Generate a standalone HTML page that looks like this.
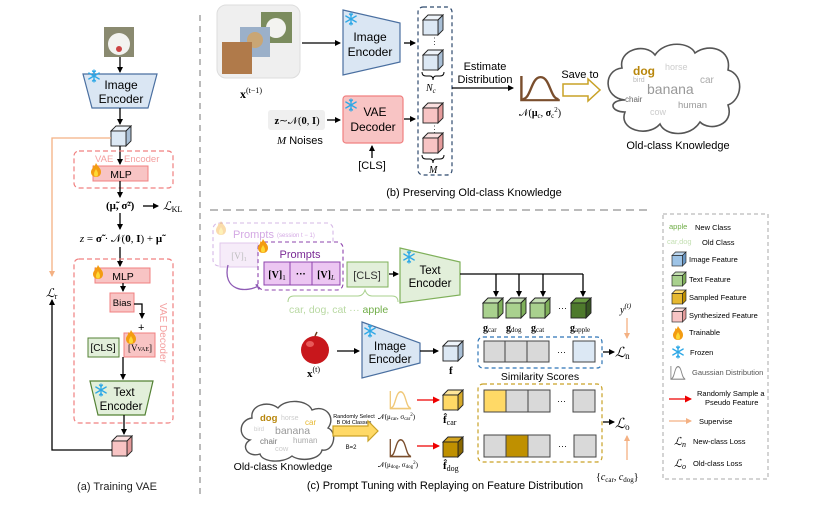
<!DOCTYPE html>
<html><head><meta charset="utf-8">
<style>
html,body{margin:0;padding:0;background:#fff;}
svg{display:block;font-family:"Liberation Sans",sans-serif;}
.serif{font-family:"Liberation Serif",serif;}
</style></head>
<body>
<svg width="830" height="509" viewBox="0 0 830 509" xmlns="http://www.w3.org/2000/svg">
<defs>
<marker id="ak" markerWidth="6" markerHeight="6" refX="5" refY="3" orient="auto" markerUnits="userSpaceOnUse"><path d="M0,0 L6,3 L0,6 z" fill="#000"/></marker>
<marker id="ao" markerWidth="6" markerHeight="6" refX="5" refY="3" orient="auto" markerUnits="userSpaceOnUse"><path d="M0,0 L6,3 L0,6 z" fill="#f4b183"/></marker>
<marker id="ar" markerWidth="7" markerHeight="7" refX="6" refY="3.5" orient="auto" markerUnits="userSpaceOnUse"><path d="M0,0 L7,3.5 L0,7 z" fill="#e00"/></marker>
<marker id="ap" markerWidth="7" markerHeight="7" refX="6" refY="3.5" orient="auto" markerUnits="userSpaceOnUse"><path d="M0,0 L7,3.5 L0,7 z" fill="#8e5bb5"/></marker>
<g id="cube">
<polygon points="0,5 5,0 20,0 15,5" style="fill:var(--t)" stroke="#222" stroke-width="0.9"/>
<polygon points="15,5 20,0 20,15 15,20" style="fill:var(--s)" stroke="#222" stroke-width="0.9"/>
<rect x="0" y="5" width="15" height="15" style="fill:var(--f)" stroke="#222" stroke-width="0.9"/>
</g>
<g id="flame">
<path d="M5,0 C7,4 10,5 10,9 C10,12 8,14 5,14 C2,14 0,12 0,9 C0,6 3,5 2,2 C4,4 4,2 5,0z" fill="#f39c12"/>
<path d="M5,6 C6,8 7,9 7,11 C7,13 6,13.5 5,13.5 C4,13.5 3,13 3,11 C3,9 4,8 5,6z" fill="#fdd835"/>
</g>
<g id="snow" stroke="#2ea8e6" stroke-width="1.3" fill="none" stroke-linecap="round">
<path d="M6,0 V12 M0.8,3 L11.2,9 M0.8,9 L11.2,3"/>
<path d="M4.5,1 L6,2.5 L7.5,1 M4.5,11 L6,9.5 L7.5,11"/>
</g>
<g id="gauss"><path d="M2,0 V22 H34" fill="none" stroke-width="2"/><path d="M3,21 C10,21 10,1 18,1 C26,1 26,21 33,21" fill="none" stroke-width="2"/></g>
</defs>

<line x1="200" y1="15" x2="200" y2="495" stroke="#bbb" stroke-width="2" stroke-dasharray="6,5"/>
<line x1="210" y1="210" x2="652" y2="210" stroke="#bbb" stroke-width="2" stroke-dasharray="8,5"/>

<!-- (a) -->
<rect x="104" y="27" width="30" height="30" fill="#8a8a70"/>
<ellipse cx="119" cy="44" rx="11" ry="11" fill="#f3f3f0"/>
<circle cx="119" cy="49" r="3" fill="#c44"/>
<line x1="120" y1="57" x2="120" y2="72" stroke="#000" stroke-width="1.3" marker-end="url(#ak)"/>
<polygon points="83,74 157,74 148,108 92,108" fill="#dae6f3" stroke="#4a6fa0" stroke-width="1.2"/>
<use href="#snow" x="88" y="70"/>
<text x="121" y="89" font-size="12" text-anchor="middle">Image</text>
<text x="121" y="103" font-size="12" text-anchor="middle">Encoder</text>
<line x1="120" y1="108" x2="120" y2="124" stroke="#000" stroke-width="1.3" marker-end="url(#ak)"/>
<use href="#cube" x="111" y="126" style="--f:#dce8f4;--t:#eef4fa;--s:#a9bfd6"/>
<path d="M111,138 H52 V276" fill="none" stroke="#f4b183" stroke-width="1.3" marker-end="url(#ao)"/>
<line x1="120" y1="146" x2="120" y2="164" stroke="#000" stroke-width="1.3" marker-end="url(#ak)"/>
<rect x="74" y="151" width="99" height="37" rx="5" fill="none" stroke="#f08080" stroke-width="1.2" stroke-dasharray="5,3"/>
<text x="95" y="162" font-size="9.5" fill="#f4a0a0">VAE</text><text x="124" y="162" font-size="9.5" fill="#f4a0a0">Encoder</text>
<rect x="93" y="166" width="55" height="15" fill="#f8c4c4" stroke="#f08080"/>
<use href="#flame" x="91" y="163"/>
<text x="121" y="178" font-size="10.5" text-anchor="middle">MLP</text>
<line x1="120" y1="181" x2="120" y2="197" stroke="#000" stroke-width="1.3" marker-end="url(#ak)"/>
<text x="106" y="209" font-size="11" class="serif" font-weight="bold">(μ̃, σ̃²)</text>
<line x1="143" y1="206" x2="158" y2="206" stroke="#000" stroke-width="1.3" marker-end="url(#ak)"/>
<text x="163" y="210" font-size="12" class="serif" font-style="italic">ℒ<tspan font-size="8" font-style="normal" dy="2">KL</tspan></text>
<line x1="120" y1="213" x2="120" y2="229" stroke="#000" stroke-width="1.3" marker-end="url(#ak)"/>
<text x="121" y="242" font-size="11" class="serif" text-anchor="middle"><tspan font-style="italic">z</tspan> = <tspan font-weight="bold">σ̃</tspan> · 𝒩(<tspan font-weight="bold">0</tspan>, <tspan font-weight="bold">I</tspan>) + <tspan font-weight="bold">μ̃</tspan></text>
<line x1="120" y1="247" x2="120" y2="266" stroke="#000" stroke-width="1.3" marker-end="url(#ak)"/>
<rect x="74" y="259" width="99" height="164" rx="5" fill="none" stroke="#f08080" stroke-width="1.2" stroke-dasharray="5,3"/>
<text x="160" y="303" font-size="10" fill="#f4a0a0" transform="rotate(90 160 303)">VAE Decoder</text>
<rect x="95" y="268" width="55" height="15" fill="#f8c4c4" stroke="#f08080"/>
<use href="#flame" x="93" y="265"/>
<text x="123" y="280" font-size="10.5" text-anchor="middle">MLP</text>
<line x1="123" y1="283" x2="123" y2="291" stroke="#000" stroke-width="1.3" marker-end="url(#ak)"/>
<rect x="110" y="293" width="24" height="19" fill="#f8c4c4" stroke="#f08080"/>
<text x="122" y="306" font-size="9.5" text-anchor="middle">Bias</text>
<path d="M134,304 H142 V318" fill="none" stroke="#000" stroke-width="1.3" marker-end="url(#ak)"/>
<text x="138" y="331" font-size="11">+</text>
<rect x="88" y="338" width="31" height="19" fill="#e2efda" stroke="#548235"/>
<text x="103" y="351" font-size="10" text-anchor="middle">[CLS]</text>
<rect x="124" y="333" width="31" height="24" fill="#f8c4c4" stroke="#f08080"/>
<use href="#flame" x="126" y="330"/>
<text x="140" y="351" font-size="9" class="serif" text-anchor="middle">[V<tspan font-size="6">VAE</tspan>]</text>
<line x1="123" y1="357" x2="123" y2="379" stroke="#000" stroke-width="1.3" marker-end="url(#ak)"/>
<polygon points="90,381 153,381 145,415 98,415" fill="#e2efda" stroke="#548235" stroke-width="1.2"/>
<use href="#snow" x="95" y="384"/>
<text x="124" y="396" font-size="11.5" text-anchor="middle">Text</text>
<text x="121" y="410" font-size="11.5" text-anchor="middle">Encoder</text>
<line x1="124" y1="415" x2="124" y2="434" stroke="#000" stroke-width="1.3" marker-end="url(#ak)"/>
<use href="#cube" x="112" y="436" style="--f:#f8c4c4;--t:#fbe0e0;--s:#e49b9b"/>
<path d="M112,450 H52 V300" fill="none" stroke="#000" stroke-width="1.3" marker-end="url(#ak)"/>
<text x="46" y="297" font-size="12" class="serif" font-style="italic">ℒ<tspan font-size="8" font-style="normal" dy="2">r</tspan></text>
<text x="117" y="490" font-size="11" text-anchor="middle" fill="#222">(a) Training VAE</text>

<!-- (b) -->
<rect x="217" y="5" width="83" height="73" rx="9" fill="#efefef" stroke="#ddd"/>
<rect x="261" y="12" width="31" height="31" fill="#7b8c5e"/>
<ellipse cx="276" cy="28" rx="10" ry="10" fill="#f3f3f0"/>
<rect x="240" y="27" width="30" height="30" fill="#9bb0c9"/>
<circle cx="255" cy="40" r="8" fill="#c9a675"/>
<rect x="222" y="42" width="30" height="32" fill="#b07a4a"/>
<text x="240" y="98" font-size="12" class="serif" font-weight="bold">x<tspan font-size="8" font-weight="normal" dy="-5">(t−1)</tspan></text>
<line x1="302" y1="43" x2="340" y2="43" stroke="#000" stroke-width="1.3" marker-end="url(#ak)"/>
<polygon points="343,10 400,23 400,62 343,75" fill="#dae6f3" stroke="#4a6fa0" stroke-width="1.2"/>
<use href="#snow" x="345" y="13"/>
<text x="370" y="41" font-size="12" text-anchor="middle">Image</text>
<text x="370" y="56" font-size="12" text-anchor="middle">Encoder</text>
<line x1="404" y1="43" x2="415" y2="43" stroke="#000" stroke-width="1.3" marker-end="url(#ak)"/>
<rect x="418" y="7" width="34" height="168" rx="5" fill="none" stroke="#2f4a6e" stroke-width="1.2" stroke-dasharray="4,3"/>
<use href="#cube" x="423" y="15" style="--f:#dce8f4;--t:#eef4fa;--s:#a9bfd6"/>
<text x="430" y="44" font-size="9" fill="#444">⋮</text>
<use href="#cube" x="423" y="50" style="--f:#dce8f4;--t:#eef4fa;--s:#a9bfd6"/>
<path d="M422,72 q0,4 4,4 h4 q3,0 3,4 q0,-4 3,-4 h4 q4,0 4,-4" fill="none" stroke="#000" stroke-width="1"/>
<text x="426" y="91" font-size="10" class="serif" font-style="italic">N<tspan font-size="7" dy="2">c</tspan></text>
<use href="#cube" x="423" y="103" style="--f:#f8c4c4;--t:#fbe0e0;--s:#e49b9b"/>
<text x="430" y="132" font-size="9" fill="#444">⋮</text>
<use href="#cube" x="423" y="133" style="--f:#f8c4c4;--t:#fbe0e0;--s:#e49b9b"/>
<path d="M422,155 q0,4 4,4 h4 q3,0 3,4 q0,-4 3,-4 h4 q4,0 4,-4" fill="none" stroke="#000" stroke-width="1"/>
<text x="429" y="173" font-size="10" class="serif" font-style="italic">M</text>
<rect x="268" y="110" width="57" height="20" rx="3" fill="#efefef"/>
<text x="297" y="124" font-size="10.5" class="serif" text-anchor="middle"><tspan font-weight="bold">z</tspan>∼𝒩(<tspan font-weight="bold">0</tspan>, <tspan font-weight="bold">I</tspan>)</text>
<text x="277" y="144" font-size="11"><tspan font-style="italic" font-family="Liberation Serif">M</tspan>  Noises</text>
<line x1="327" y1="120" x2="340" y2="120" stroke="#000" stroke-width="1.3" marker-end="url(#ak)"/>
<rect x="343" y="96" width="60" height="47" rx="3" fill="#f8c4c4" stroke="#f08080" stroke-width="1.2"/>
<use href="#snow" x="345" y="99"/>
<text x="375" y="116" font-size="12" text-anchor="middle">VAE</text>
<text x="373" y="131" font-size="12" text-anchor="middle">Decoder</text>
<line x1="404" y1="119" x2="415" y2="119" stroke="#000" stroke-width="1.3" marker-end="url(#ak)"/>
<line x1="372" y1="158" x2="372" y2="146" stroke="#000" stroke-width="1.3" marker-end="url(#ak)"/>
<text x="372" y="169" font-size="11" text-anchor="middle">[CLS]</text>
<line x1="452" y1="88" x2="513" y2="88" stroke="#000" stroke-width="1.3" marker-end="url(#ak)"/>
<text x="485" y="70" font-size="11" text-anchor="middle">Estimate</text>
<text x="485" y="83" font-size="11" text-anchor="middle">Distribution</text>
<use href="#gauss" x="0" y="0" stroke="#7a4e2d" transform="translate(519 76) scale(1.2 1.1)"/>
<text x="540" y="116" font-size="10" class="serif" text-anchor="middle">𝒩(<tspan font-weight="bold">μ</tspan><tspan font-size="7" dy="2">c</tspan><tspan dy="-2">, </tspan><tspan font-weight="bold">σ</tspan><tspan font-size="7" dy="2">c</tspan><tspan font-size="7" dy="-6">2</tspan><tspan dy="4">)</tspan></text>
<text x="580" y="78" font-size="11" text-anchor="middle">Save to</text>
<polygon points="563,84 588,84 588,79 600,90 588,101 588,96 563,96" fill="#fff" stroke="#c9a227" stroke-width="1.5"/>
<path d="M625,100 C603,98 603,70 622,68 C618,50 645,42 655,55 C665,40 690,42 695,53 C710,42 732,50 728,70 C745,75 742,100 728,105 C735,125 710,132 700,122 C690,138 665,136 660,124 C648,138 618,130 625,112 C610,112 608,100 625,100z" fill="#fff" stroke="#555" stroke-width="1.6"/>
<text x="633" y="82" font-size="7" fill="#bbb">bird</text>
<text x="633" y="75" font-size="12" font-weight="bold" fill="#b8860b">dog</text>
<text x="665" y="70" font-size="9" fill="#ccc">horse</text>
<text x="700" y="83" font-size="10" fill="#aaa">car</text>
<text x="647" y="94" font-size="14" fill="#999">banana</text>
<text x="625" y="102" font-size="8" fill="#666">chair</text>
<text x="678" y="108" font-size="9.5" fill="#999">human</text>
<text x="650" y="115" font-size="9" fill="#ccc">cow</text>
<text x="678" y="149" font-size="11" text-anchor="middle">Old-class Knowledge</text>
<text x="474" y="196" font-size="11" text-anchor="middle">(b) Preserving Old-class Knowledge</text>

<!-- (c) -->
<rect x="213" y="223" width="120" height="43" rx="6" fill="none" stroke="#d6b8e6" stroke-width="1.1" stroke-dasharray="4,3"/>
<use href="#flame" x="216" y="221" opacity="0.35"/>
<text x="233" y="238" font-size="11" fill="#d4a9e4">Prompts</text>
<text x="277" y="237" font-size="6" fill="#d4a9e4">(session t − 1)</text>
<rect x="220" y="243" width="38" height="24" fill="#f6ecf9" stroke="#e1c8ec"/>
<text x="239" y="259" font-size="9" class="serif" fill="#bbb" text-anchor="middle">[V]<tspan font-size="6" dy="2">1</tspan></text>
<path d="M228,265 C222,290 245,295 262,284" fill="none" stroke="#8e5bb5" stroke-width="1.3" marker-end="url(#ap)"/>
<rect x="258" y="242" width="85" height="48" rx="6" fill="#fff" stroke="#8e44ad" stroke-width="1.1" stroke-dasharray="4,3"/>
<use href="#flame" x="258" y="239"/>
<text x="300" y="258" font-size="11" fill="#7a2a95" text-anchor="middle">Prompts</text>
<rect x="264" y="262" width="76" height="23" fill="#ecc6f2" stroke="#8e44ad"/>
<line x1="290" y1="262" x2="290" y2="285" stroke="#8e44ad"/>
<line x1="312" y1="262" x2="312" y2="285" stroke="#8e44ad"/>
<text x="277" y="278" font-size="10" class="serif" font-weight="bold" text-anchor="middle">[V]<tspan font-size="7" font-weight="normal" dy="2">1</tspan></text>
<text x="301" y="277" font-size="10" font-weight="bold" text-anchor="middle">···</text>
<text x="326" y="278" font-size="10" class="serif" font-weight="bold" text-anchor="middle">[V]<tspan font-size="7" font-weight="normal" font-style="italic" dy="2">L</tspan></text>
<rect x="347" y="262" width="41" height="25" fill="#e2efda" stroke="#7fb05a"/>
<text x="367" y="279" font-size="11" text-anchor="middle" fill="#333">[CLS]</text>
<path d="M288,302 q0,-6 6,-6 h64 q5,0 7,-6 q2,6 7,6 h20 q6,0 6,6" fill="none" stroke="#a9d18e" stroke-width="1"/>
<text x="289" y="313" font-size="10.5" fill="#b9d9a3">car, dog, cat ··· <tspan fill="#70ad47">apple</tspan></text>
<line x1="389" y1="274" x2="398" y2="274" stroke="#000" stroke-width="1.3" marker-end="url(#ak)"/>
<polygon points="400,248 460,262 460,295 400,303" fill="#e2efda" stroke="#7fb05a" stroke-width="1.2"/>
<use href="#snow" x="403" y="251"/>
<text x="430" y="274" font-size="11.5" text-anchor="middle">Text</text>
<text x="430" y="287" font-size="11.5" text-anchor="middle">Encoder</text>
<path d="M460,274 H583" fill="none" stroke="#000" stroke-width="1.3"/>
<line x1="496" y1="274" x2="496" y2="296" stroke="#000" stroke-width="1.3" marker-end="url(#ak)"/>
<line x1="519" y1="274" x2="519" y2="296" stroke="#000" stroke-width="1.3" marker-end="url(#ak)"/>
<line x1="543" y1="274" x2="543" y2="296" stroke="#000" stroke-width="1.3" marker-end="url(#ak)"/>
<line x1="583" y1="274" x2="583" y2="296" stroke="#000" stroke-width="1.3" marker-end="url(#ak)"/>
<use href="#cube" x="483" y="298" style="--f:#a9d18e;--t:#c5e0b4;--s:#7fb05a"/>
<use href="#cube" x="506" y="298" style="--f:#a9d18e;--t:#c5e0b4;--s:#7fb05a"/>
<use href="#cube" x="530" y="298" style="--f:#a9d18e;--t:#c5e0b4;--s:#7fb05a"/>
<text x="558" y="311" font-size="9">···</text>
<use href="#cube" x="571" y="298" style="--f:#4e7a2c;--t:#6a9c42;--s:#385723"/>
<g class="serif" font-size="10" font-weight="bold"><text x="483" y="331">g<tspan font-size="7" font-weight="normal" dy="1">car</tspan></text><text x="506" y="331">g<tspan font-size="7" font-weight="normal" dy="1">dog</tspan></text><text x="531" y="331">g<tspan font-size="7" font-weight="normal" dy="1">cat</tspan></text><text x="570" y="331">g<tspan font-size="7" font-weight="normal" dy="1">apple</tspan></text></g>
<circle cx="315" cy="350" r="14" fill="#c8171c"/>
<ellipse cx="310" cy="344" rx="4" ry="3" fill="#e85a5a"/>
<line x1="315" y1="336" x2="317" y2="332" stroke="#6b3b1a" stroke-width="1.5"/>
<text x="307" y="377" font-size="11" class="serif" font-weight="bold">x<tspan font-size="8" font-weight="normal" dy="-5">(t)</tspan></text>
<line x1="337" y1="351" x2="359" y2="351" stroke="#000" stroke-width="1.3" marker-end="url(#ak)"/>
<polygon points="362,322 420,343 420,363 362,378" fill="#dae6f3" stroke="#4a6fa0" stroke-width="1.2"/>
<use href="#snow" x="364" y="325"/>
<text x="390" y="350" font-size="11.5" text-anchor="middle">Image</text>
<text x="390" y="363" font-size="11.5" text-anchor="middle">Encoder</text>
<line x1="420" y1="351" x2="438" y2="351" stroke="#000" stroke-width="1.3" marker-end="url(#ak)"/>
<use href="#cube" x="443" y="341" style="--f:#dce8f4;--t:#eef4fa;--s:#a9bfd6"/>
<text x="449" y="374" font-size="11" class="serif" font-weight="bold">f</text>
<rect x="478" y="337" width="124" height="31" rx="5" fill="none" stroke="#2e75b6" stroke-width="1.2" stroke-dasharray="4,3"/>
<g stroke="#444" stroke-width="1"><rect x="484" y="341" width="21" height="21" fill="#d9d9d9"/><rect x="505" y="341" width="22" height="21" fill="#d9d9d9"/><rect x="527" y="341" width="22" height="21" fill="#d9d9d9"/><rect x="573" y="341" width="22" height="21" fill="#dce8f4"/></g>
<text x="557" y="355" font-size="9">···</text>
<text x="540" y="380" font-size="10.5" text-anchor="middle">Similarity Scores</text>
<line x1="603" y1="352" x2="614" y2="352" stroke="#000" stroke-width="1.3" marker-end="url(#ak)"/>
<text x="615" y="357" font-size="14" class="serif" font-style="italic">ℒ<tspan font-size="9" font-style="normal" dy="2">n</tspan></text>
<text x="620" y="313" font-size="10" class="serif" font-style="italic">y<tspan font-size="7" dy="-5">(t)</tspan></text>
<line x1="627" y1="318" x2="627" y2="338" stroke="#f4b183" stroke-width="1.3" marker-end="url(#ao)"/>
<rect x="478" y="384" width="124" height="78" rx="5" fill="none" stroke="#c9a227" stroke-width="1.2" stroke-dasharray="4,3"/>
<g stroke="#444" stroke-width="1"><rect x="484" y="390" width="22" height="22" fill="#ffd966"/><rect x="506" y="390" width="22" height="22" fill="#d9d9d9"/><rect x="528" y="390" width="22" height="22" fill="#d9d9d9"/><rect x="573" y="390" width="22" height="22" fill="#d9d9d9"/>
<rect x="484" y="435" width="22" height="22" fill="#d9d9d9"/><rect x="506" y="435" width="22" height="22" fill="#bf9000"/><rect x="528" y="435" width="22" height="22" fill="#d9d9d9"/><rect x="574" y="435" width="22" height="22" fill="#d9d9d9"/></g>
<text x="557" y="404" font-size="9">···</text><text x="558" y="449" font-size="9">···</text>
<line x1="603" y1="422" x2="614" y2="422" stroke="#000" stroke-width="1.3" marker-end="url(#ak)"/>
<text x="615" y="428" font-size="14" class="serif" font-style="italic">ℒ<tspan font-size="9" font-style="normal" dy="2">o</tspan></text>
<line x1="627" y1="460" x2="627" y2="436" stroke="#f4b183" stroke-width="1.3" marker-end="url(#ao)"/>
<text x="596" y="480" font-size="10" class="serif">{<tspan font-style="italic">c</tspan><tspan font-size="7" dy="2">car</tspan><tspan dy="-2">, </tspan><tspan font-style="italic">c</tspan><tspan font-size="7" dy="2">dog</tspan><tspan dy="-2">}</tspan></text>
<path d="M250,440 C238,438 238,420 252,418 C250,405 268,400 278,408 C286,398 308,400 312,410 C326,404 336,418 328,428 C338,432 334,452 322,450 C320,460 300,462 292,456 C282,464 262,462 260,454 C248,458 240,446 250,440z" fill="#fff" stroke="#555" stroke-width="1.4"/>
<text x="260" y="421" font-size="9.5" font-weight="bold" fill="#b8860b">dog</text>
<text x="281" y="420" font-size="7" fill="#ccc">horse</text>
<text x="305" y="425" font-size="8" fill="#e6b830">car</text>
<text x="254" y="431" font-size="6" fill="#ccc">bird</text>
<text x="275" y="434" font-size="10.5" fill="#999">banana</text>
<text x="260" y="444" font-size="8" fill="#777">chair</text>
<text x="293" y="443" font-size="8" fill="#aaa">human</text>
<text x="275" y="451" font-size="7.5" fill="#ccc">cow</text>
<text x="283" y="470" font-size="10.5" text-anchor="middle">Old-class Knowledge</text>
<text x="354" y="418" font-size="5.5" text-anchor="middle">Randomly Select</text>
<text x="354" y="424" font-size="5.5" text-anchor="middle">B Old Classes</text>
<polygon points="333,426 368,426 368,421 378,431 368,441 368,436 333,436" fill="#ffd966" stroke="#c9a227" stroke-width="1.2"/>
<text x="351" y="449" font-size="6" text-anchor="middle">B=2</text>
<use href="#gauss" x="0" y="0" stroke="#f0c878" transform="translate(389 391) scale(0.65 0.8)"/>
<text x="378" y="419" font-size="7" class="serif">𝒩(μ<tspan font-size="5" dy="1">car</tspan><tspan dy="-1">, σ</tspan><tspan font-size="5" dy="1">car</tspan><tspan font-size="5" dy="-4">2</tspan><tspan dy="3">)</tspan></text>
<use href="#gauss" x="0" y="0" stroke="#7a4e2d" transform="translate(389 439) scale(0.65 0.8)"/>
<text x="378" y="467" font-size="7" class="serif">𝒩(μ<tspan font-size="5" dy="1">dog</tspan><tspan dy="-1">, σ</tspan><tspan font-size="5" dy="1">dog</tspan><tspan font-size="5" dy="-4">2</tspan><tspan dy="3">)</tspan></text>
<line x1="417" y1="400" x2="439" y2="400" stroke="#e00" stroke-width="1.3" marker-end="url(#ar)"/>
<line x1="417" y1="446" x2="439" y2="446" stroke="#e00" stroke-width="1.3" marker-end="url(#ar)"/>
<use href="#cube" x="443" y="390" style="--f:#ffd966;--t:#ffe699;--s:#d6a92a"/>
<use href="#cube" x="443" y="437" style="--f:#bf9000;--t:#d4a520;--s:#8a6800"/>
<text x="443" y="423" font-size="11" class="serif" font-weight="bold">f̂<tspan font-size="8" font-weight="normal" dy="2">car</tspan></text>
<text x="443" y="469" font-size="11" class="serif" font-weight="bold">f̂<tspan font-size="8" font-weight="normal" dy="2">dog</tspan></text>
<text x="445" y="489" font-size="11" text-anchor="middle">(c) Prompt Tuning with Replaying on Feature Distribution</text>

<!-- legend -->
<rect x="663" y="214" width="105" height="265" fill="none" stroke="#aaa" stroke-width="1" stroke-dasharray="4,3"/>
<text x="669" y="229" font-size="7.5" fill="#70ad47">apple</text><text x="695" y="230" font-size="7.5">New Class</text>
<text x="667" y="244" font-size="7.5" fill="#c5e0b4">car,dog</text><text x="702" y="245" font-size="7.5">Old Class</text>
<use href="#cube" x="0" y="0" transform="translate(672 252) scale(0.7)" style="--f:#9dc3e6;--t:#bdd7ee;--s:#6a97c4"/>
<text x="689" y="262" font-size="7.5">Image Feature</text>
<use href="#cube" x="0" y="0" transform="translate(672 272) scale(0.7)" style="--f:#a9d18e;--t:#c5e0b4;--s:#7fb05a"/>
<text x="689" y="282" font-size="7.5">Text Feature</text>
<use href="#cube" x="0" y="0" transform="translate(672 290) scale(0.7)" style="--f:#e6b830;--t:#ffd966;--s:#bf9000"/>
<text x="689" y="300" font-size="7.5">Sampled Feature</text>
<use href="#cube" x="0" y="0" transform="translate(672 308) scale(0.7)" style="--f:#f8c4c4;--t:#fbe0e0;--s:#e49b9b"/>
<text x="689" y="318" font-size="7.5">Synthesized Feature</text>
<use href="#flame" x="673" y="326"/>
<text x="689" y="335" font-size="7.5">Trainable</text>
<use href="#snow" x="672" y="346"/>
<text x="690" y="355" font-size="7.5">Frozen</text>
<use href="#gauss" x="0" y="0" stroke="#888" transform="translate(670 366) scale(0.45 0.6)"/>
<text x="692" y="375" font-size="7.5" fill="#555">Gaussian Distribution</text>
<line x1="669" y1="399" x2="691" y2="399" stroke="#e00" stroke-width="1.3" marker-end="url(#ar)"/>
<text x="697" y="396" font-size="7.5">Randomly Sample a</text>
<text x="705" y="405" font-size="7.5">Pseudo Feature</text>
<line x1="669" y1="421" x2="691" y2="421" stroke="#f4b183" stroke-width="1.3" marker-end="url(#ao)"/>
<text x="699" y="424" font-size="7.5">Supervise</text>
<text x="674" y="445" font-size="11" class="serif" font-style="italic">ℒ<tspan font-size="8" dy="2">n</tspan></text>
<text x="693" y="444" font-size="7.5">New-class Loss</text>
<text x="674" y="467" font-size="11" class="serif" font-style="italic">ℒ<tspan font-size="8" dy="2">o</tspan></text>
<text x="693" y="466" font-size="7.5">Old-class Loss</text>
</svg>
</body></html>
